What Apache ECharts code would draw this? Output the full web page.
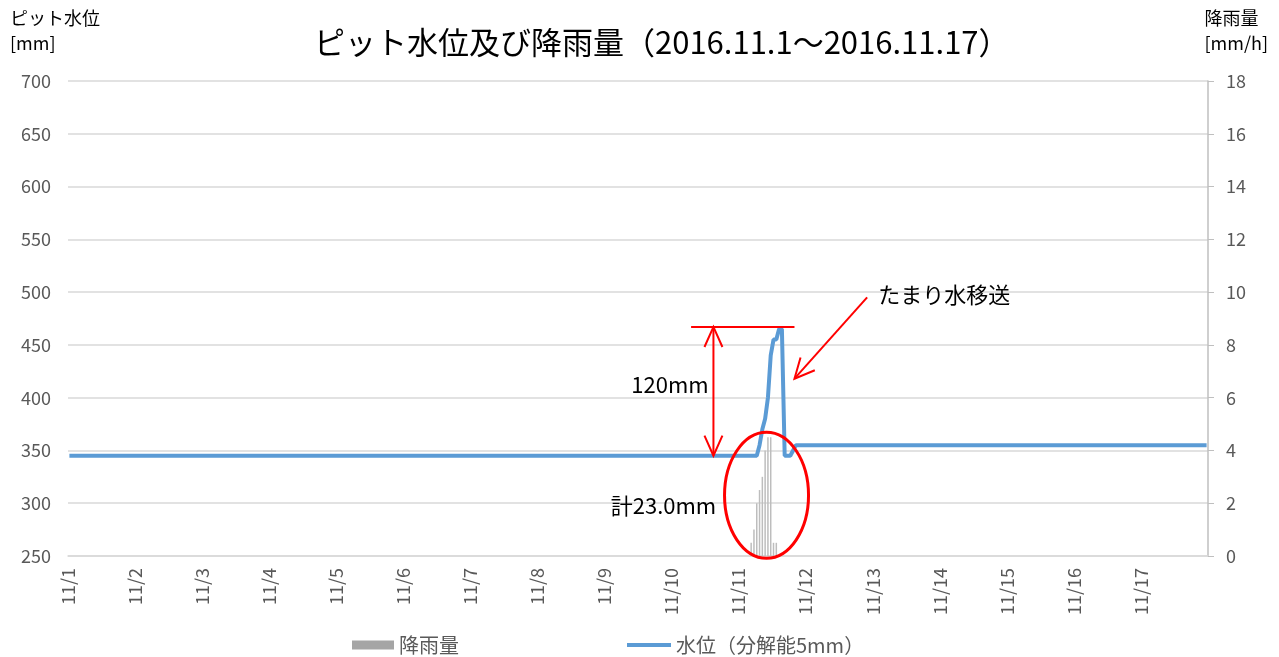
<!DOCTYPE html>
<html>
<head>
<meta charset="utf-8">
<script src="https://cdn.jsdelivr.net/npm/echarts@6/dist/echarts.min.js"></script>
<style>
  html, body { margin: 0; padding: 0; background: #fff; }
  #chart { width: 1279px; height: 657px; }
</style>
</head>
<body>
<div id="chart"></div>
<script>
// 日付ラベル（1日 = 24時間）
const dayLabels = ['11/1', '11/2', '11/3', '11/4', '11/5', '11/6', '11/7', '11/8', '11/9',
  '11/10', '11/11', '11/12', '11/13', '11/14', '11/15', '11/16', '11/17']
const hoursPerDay = 24

// 水位 [mm]：変化点のみ（時刻インデックス）
const levelHours = [0, 246, 247, 248, 249, 250, 251, 252, 253, 254, 255, 256, 257, 258, 259, 260, 407]
const levelValues = [345, 345, 355, 370, 380, 400, 440, 455, 455, 465, 465, 345, 345, 345, 350, 355, 355]

// 降雨量 [mm/h]
const rainHours = [244, 245, 246, 247, 248, 249, 250, 251, 252, 253]
const rainValues = [0.5, 1.0, 2.0, 2.5, 3.0, 4.0, 4.5, 4.5, 0.5, 0.5]

// 左軸・右軸の目盛り
const levelAxis = { min: 250, max: 700, interval: 50 }
const rainAxis = { min: 0, max: 18, interval: 2 }

const FONT = 'Noto Sans CJK JP'
const chartDom = document.getElementById('chart')
const chart = echarts.init(chartDom)

const totalHours = dayLabels.length * hoursPerDay

chart.setOption({
  animation: false,
  textStyle: { fontFamily: FONT },
  title: {
    text: 'ピット水位及び降雨量（2016.11.1～2016.11.17）',
    left: 309,
    top: 22,
    textStyle: { fontFamily: FONT, fontSize: 31, fontWeight: 'normal', color: '#000' }
  },
  grid: { left: 68, right: 71, top: 81, bottom: 101, containLabel: false },
  legend: [
    {
      left: 347,
      top: 630,
      itemWidth: 42,
      itemHeight: 9,
      itemGap: 4,
      textStyle: { fontSize: 20, color: '#595959' },
      data: [{ name: '降雨量', icon: 'rect', itemStyle: { color: '#a5a5a5' } }]
    },
    {
      left: 622,
      top: 630,
      itemWidth: 44,
      itemHeight: 4,
      textStyle: { fontSize: 20, color: '#595959' },
      data: [{ name: '水位（分解能5mm）', icon: 'rect', itemStyle: { color: '#5b9bd5' } }]
    }
  ],
  xAxis: {
    type: 'value',
    min: 0,
    max: totalHours,
    interval: hoursPerDay,
    axisLine: { show: true, lineStyle: { color: '#d9d9d9', width: 1.5 } },
    axisTick: { show: false },
    splitLine: { show: false },
    axisLabel: {
      rotate: 90,
      fontSize: 18,
      color: '#595959',
      margin: 12,
      formatter: (v) => dayLabels[Math.round(v / hoursPerDay)] || ''
    }
  },
  yAxis: [
    {
      type: 'value',
      min: levelAxis.min,
      max: levelAxis.max,
      interval: levelAxis.interval,
      axisLine: { show: false },
      axisTick: { show: false },
      splitLine: { lineStyle: { color: '#d9d9d9', width: 1.5 } },
      axisLabel: { fontSize: 18, color: '#595959', margin: 17 }
    },
    {
      type: 'value',
      min: rainAxis.min,
      max: rainAxis.max,
      interval: rainAxis.interval,
      position: 'right',
      axisLine: { show: true, lineStyle: { color: '#bfbfbf', width: 1.5 } },
      axisTick: { show: true, length: 6, lineStyle: { color: '#bfbfbf' } },
      splitLine: { show: false },
      axisLabel: { fontSize: 18, color: '#595959', margin: 18 }
    }
  ],
  series: [
    {
      name: '降雨量',
      type: 'bar',
      xAxisIndex: 0,
      yAxisIndex: 1,
      barWidth: 1.5,
      itemStyle: { color: '#bdbdbd' },
      data: rainHours.map((h, i) => [h + 0.5, rainValues[i]]),
      z: 1
    },
    {
      name: '水位（分解能5mm）',
      type: 'line',
      xAxisIndex: 0,
      yAxisIndex: 0,
      symbol: 'none',
      lineStyle: { color: '#5b9bd5', width: 4 },
      itemStyle: { color: '#5b9bd5' },
      data: levelHours.map((h, i) => [h + 0.5, levelValues[i]]),
      z: 2
    }
  ]
})

// 注記（データ座標で指定してピクセルへ変換）
const arrowHour = 231
const topLineHours = [223, 260]
const baseLevel = 345
const peakLevel = 467
const circleCenter = { hour: 250, rain: 2.3 }
const moveArrow = { from: [286, 495], to: [260, 418] }

function px (hour, level) {
  return chart.convertToPixel({ xAxisIndex: 0, yAxisIndex: 0 }, [hour, level])
}

function arrowHead (tip, from, len, spread) {
  const ang = Math.atan2(from[1] - tip[1], from[0] - tip[0])
  return [
    [tip[0] + len * Math.cos(ang - spread), tip[1] + len * Math.sin(ang - spread)],
    tip,
    [tip[0] + len * Math.cos(ang + spread), tip[1] + len * Math.sin(ang + spread)]
  ]
}

const red = '#ff0000'
const arrowTop = px(arrowHour, peakLevel)
const arrowBottom = px(arrowHour, baseLevel)
const lineL = px(topLineHours[0], peakLevel)
const lineR = px(topLineHours[1], peakLevel)
const cCenter = chart.convertToPixel({ xAxisIndex: 0, yAxisIndex: 1 }, [circleCenter.hour, circleCenter.rain])
const mFrom = px(moveArrow.from[0], moveArrow.from[1])
const mTo = px(moveArrow.to[0], moveArrow.to[1])
const t120 = px(230, 412)
const tTotal = px(232, 298)
const tMove = px(290, 498)

const redLine = { stroke: red, lineWidth: 2, fill: null }
const noteFont = '22px "' + FONT + '"'
chart.setOption({
  graphic: [
    { type: 'text', left: 10, top: 6, style: { text: 'ピット水位\n[mm]', font: '18px "' + FONT + '"', fill: '#000', lineHeight: 25 } },
    { type: 'text', right: 11, top: 6, style: { text: '降雨量\n[mm/h]', font: '18px "' + FONT + '"', fill: '#000', lineHeight: 25, align: 'right' } },
    { type: 'line', shape: { x1: lineL[0], y1: lineL[1], x2: lineR[0], y2: lineR[1] }, style: redLine, z: 10 },
    { type: 'line', shape: { x1: arrowTop[0], y1: arrowTop[1], x2: arrowBottom[0], y2: arrowBottom[1] }, style: redLine, z: 10 },
    { type: 'polyline', shape: { points: arrowHead(arrowTop, arrowBottom, 22, 0.42) }, style: redLine, z: 10 },
    { type: 'polyline', shape: { points: arrowHead(arrowBottom, arrowTop, 22, 0.42) }, style: redLine, z: 10 },
    { type: 'ellipse', shape: { cx: cCenter[0], cy: cCenter[1], rx: 42, ry: 63 }, style: { stroke: red, lineWidth: 3, fill: null }, z: 10 },
    { type: 'line', shape: { x1: mFrom[0], y1: mFrom[1], x2: mTo[0], y2: mTo[1] }, style: redLine, z: 10 },
    { type: 'polyline', shape: { points: arrowHead(mTo, mFrom, 22, 0.45) }, style: redLine, z: 10 },
    { type: 'text', x: t120[0] - 2, y: t120[1], style: { text: '120mm', font: noteFont, fill: '#000', align: 'right', verticalAlign: 'middle' }, z: 10 },
    { type: 'text', x: tTotal[0], y: tTotal[1], style: { text: '計23.0mm', font: noteFont, fill: '#000', align: 'right', verticalAlign: 'middle' }, z: 10 },
    { type: 'text', x: tMove[0], y: tMove[1], style: { text: 'たまり水移送', font: noteFont, fill: '#000', align: 'left', verticalAlign: 'middle' }, z: 10 }
  ]
})
</script>
</body>
</html>
